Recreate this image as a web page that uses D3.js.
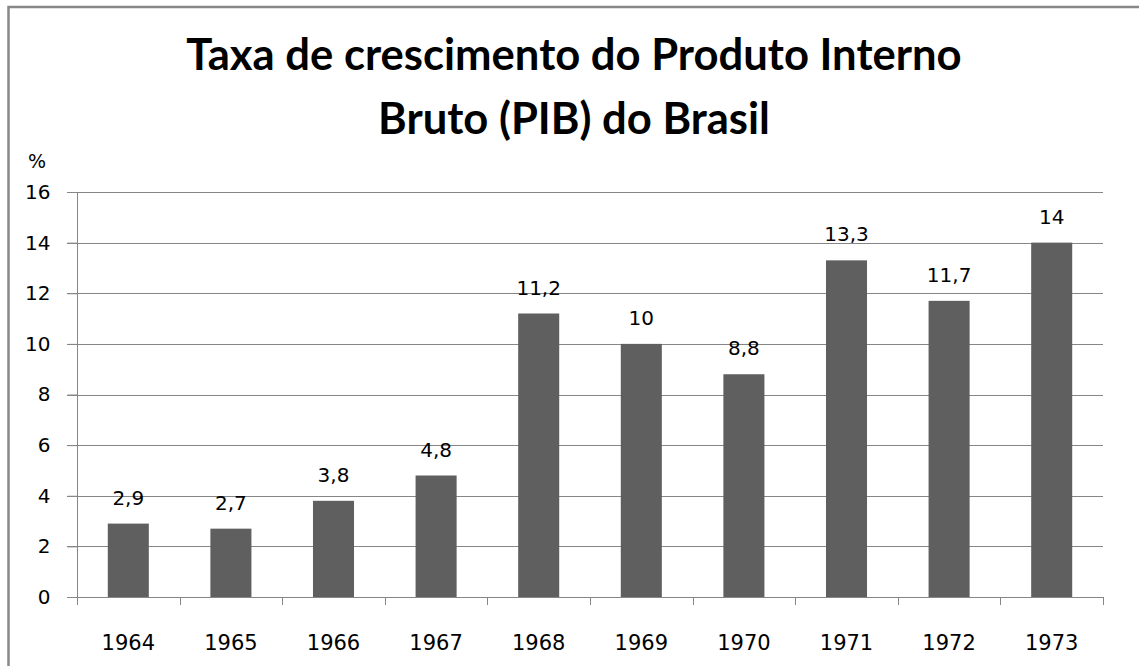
<!DOCTYPE html>
<html>
<head>
<meta charset="utf-8">
<script src="https://cdn.jsdelivr.net/npm/d3@7"></script>
<style>
  body { margin: 0; background: #fff; }
  svg { display: block; }
</style>
</head>
<body>
<script>
// data
var years = ["1964", "1965", "1966", "1967", "1968", "1969", "1970", "1971", "1972", "1973"];
var growth = [2.9, 2.7, 3.8, 4.8, 11.2, 10, 8.8, 13.3, 11.7, 14];
var yTicks = [0, 2, 4, 6, 8, 10, 12, 14, 16];
var titleLines = ["Taxa de crescimento do Produto Interno", "Bruto (PIB) do Brasil"];

function drawChart() {
  var w = 1139, h = 666;
  var left = 77, right = 1103, top = 192, bottom = 597;

  var svg = d3.select("body").append("svg")
    .attr("width", w)
    .attr("height", h);

  // outer frame (only top and left visible)
  svg.append("path")
    .attr("d", "M8.5," + h + " V7 H" + w)
    .attr("fill", "none")
    .attr("stroke", "#888")
    .attr("stroke-width", 2.5);

  var xScale = d3.scaleBand()
    .domain(years)
    .range([left, right])
    .padding(0);

  var yScale = d3.scaleLinear()
    .domain([0, 16])
    .range([bottom, top]);

  // gridlines
  svg.append("g")
    .selectAll("line")
    .data(yTicks.filter(d => d > 0))
    .enter()
    .append("line")
    .attr("x1", left - 10)
    .attr("x2", right)
    .attr("y1", d => Math.round(yScale(d)) + 0.5)
    .attr("y2", d => Math.round(yScale(d)) + 0.5)
    .attr("stroke", "#868686");

  // y axis
  var yAxis = d3.axisLeft(yScale)
    .tickValues(yTicks)
    .tickSize(10)
    .tickPadding(17);
  var gy = svg.append("g")
    .attr("transform", "translate(" + (left + 0.5) + ",0)")
    .call(yAxis);
  gy.select(".domain").attr("stroke", "#868686").attr("d", "M0," + top + "V" + bottom);
  gy.selectAll(".tick line").attr("stroke", "#868686");
  gy.selectAll(".tick text")
    .attr("font-family", "DejaVu Sans")
    .attr("font-size", "20px")
    .attr("fill", "#000");

  // x axis with ticks between categories
  svg.append("line")
    .attr("x1", left - 10)
    .attr("x2", right)
    .attr("y1", bottom + 0.5)
    .attr("y2", bottom + 0.5)
    .attr("stroke", "#868686");
  var edges = years.map(d => xScale(d)).concat([right]);
  svg.append("g")
    .selectAll("line")
    .data(edges)
    .enter()
    .append("line")
    .attr("x1", d => Math.round(d) + 0.5)
    .attr("x2", d => Math.round(d) + 0.5)
    .attr("y1", bottom)
    .attr("y2", bottom + 8)
    .attr("stroke", "#868686");

  svg.append("g")
    .selectAll("text")
    .data(years)
    .enter()
    .append("text")
    .attr("x", d => xScale(d) + xScale.bandwidth() / 2)
    .attr("y", 650)
    .attr("text-anchor", "middle")
    .attr("font-family", "DejaVu Sans")
    .attr("font-size", "21px")
    .text(d => d);

  // bars
  var barW = xScale.bandwidth() * 0.4;
  svg.append("g")
    .selectAll("rect")
    .data(growth)
    .enter()
    .append("rect")
    .attr("x", (d, i) => xScale(years[i]) + (xScale.bandwidth() - barW) / 2)
    .attr("y", d => yScale(d))
    .attr("width", barW)
    .attr("height", d => yScale(0) - yScale(d))
    .attr("fill", "#5f5f5f");

  // value labels, decimal comma
  svg.append("g")
    .selectAll("text")
    .data(growth)
    .enter()
    .append("text")
    .attr("x", (d, i) => xScale(years[i]) + xScale.bandwidth() / 2)
    .attr("y", d => yScale(d) - 19)
    .attr("text-anchor", "middle")
    .attr("font-family", "DejaVu Sans")
    .attr("font-size", "20px")
    .text(d => String(d).replace(".", ","));

  // unit label
  svg.append("text")
    .attr("x", 28)
    .attr("y", 168)
    .attr("font-family", "DejaVu Sans")
    .attr("font-size", "19px")
    .text("%");

  // title
  var title = svg.append("g")
    .selectAll("text")
    .data(titleLines)
    .enter()
    .append("text")
    .attr("x", 574)
    .attr("y", (d, i) => 70 + i * 64)
    .attr("text-anchor", "middle")
    .attr("font-family", "Lato")
    .attr("font-weight", "bold")
    .attr("font-size", "42px")
    .text(d => d);
  // fit first line to the reference width
  var first = title.nodes()[0].getComputedTextLength();
  title.attr("font-size", (42 * 775 / first).toFixed(1) + "px");
}

window.onload = function() {
  drawChart();
};
</script>
</body>
</html>
